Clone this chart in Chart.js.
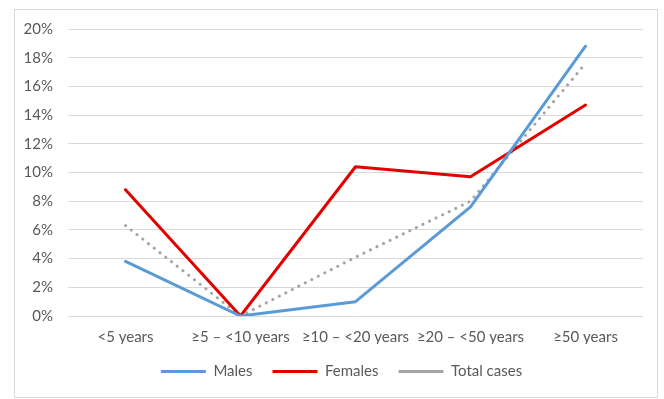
<!DOCTYPE html>
<html>
<head>
<meta charset="utf-8">
<script src="https://cdn.jsdelivr.net/npm/chart.js@4"></script>
<style>
  html, body { margin: 0; padding: 0; background: #ffffff; }
  #wrap { width: 664px; height: 399px; position: relative; }
</style>
</head>
<body>
<div id="wrap"><canvas id="c" width="664" height="399"></canvas></div>
<script>
// Age groups and share of cases (%) per group
const ageGroups = ['<5 years', '\u22655 \u2013 <10 years', '\u226510 \u2013 <20 years', '\u226520 \u2013 <50 years', '\u226550 years'];
const males = [3.8, 0.0, 1.0, 7.6, 18.8];
const females = [8.8, 0.0, 10.4, 9.7, 14.7];
const totalCases = [6.3, 0.0, 4.1, 8.0, 17.6];
const yTicks = [0, 2, 4, 6, 8, 10, 12, 14, 16, 18, 20];

const textColor = '#595959';
const gridColor = '#d9d9d9';
const fontFamily = 'Lato, "Open Sans", sans-serif';
const fontSize = 15;

// Light frame around the whole chart
const framePlugin = {
  id: 'frame',
  beforeDraw(chart) {
    const ctx = chart.ctx;
    ctx.save();
    ctx.strokeStyle = '#d9d9d9';
    ctx.lineWidth = 1;
    ctx.strokeRect(14.5, 9.5, 643, 388);
    ctx.restore();
  }
};

// Centre the legend under the plot rather than the whole canvas
const legendShift = {
  id: 'legendShift',
  afterLayout(chart) {
    const lg = chart.legend;
    if (lg) { lg.left += 13; lg.right += 13; }
  }
};

new Chart(document.getElementById('c'), {
  type: 'line',
  data: {
    labels: ageGroups,
    datasets: [
      { label: 'Males', data: males, borderColor: '#5b9bd5', backgroundColor: '#5b9bd5',
        borderWidth: 3, pointRadius: 0, tension: 0, borderCapStyle: 'round', borderJoinStyle: 'round' },
      { label: 'Females', data: females, borderColor: '#e50000', backgroundColor: '#e50000',
        borderWidth: 3, pointRadius: 0, tension: 0, borderCapStyle: 'round', borderJoinStyle: 'round' },
      { label: 'Total cases', data: totalCases, borderColor: '#a5a5a5', backgroundColor: '#a5a5a5',
        borderWidth: 3, borderDash: [0.1, 7.2], borderCapStyle: 'round', pointRadius: 0, tension: 0 }
    ]
  },
  options: {
    responsive: false,
    animation: false,
    layout: { padding: { left: 14, right: 21, top: 29, bottom: 10 } },
    font: { family: fontFamily, size: fontSize },
    scales: {
      x: {
        offset: true,
        grid: { display: false, drawTicks: false },
        border: { display: false },
        ticks: { color: textColor, font: { family: fontFamily, size: fontSize }, padding: 12, maxRotation: 0, autoSkip: false },
        afterFit(scale) { scale.height = 28; }
      },
      y: {
        min: 0, max: 20,
        afterBuildTicks(scale) { scale.ticks = yTicks.map(v => ({ value: v })); },
        grid: { color: gridColor, lineWidth: 1, drawTicks: false },
        border: { display: false },
        ticks: { color: textColor, font: { family: fontFamily, size: fontSize }, padding: 15, callback: v => v + '%' },
        afterFit(scale) { scale.width = 54; }
      }
    },
    plugins: {
      legend: {
        position: 'bottom',
        labels: {
          color: textColor,
          font: { family: fontFamily, size: fontSize },
          usePointStyle: true,
          pointStyle: 'line',
          pointStyleWidth: 45,
          padding: 20
        }
      },
      tooltip: { enabled: false }
    }
  },
  plugins: [framePlugin, legendShift]
});
</script>
</body>
</html>
